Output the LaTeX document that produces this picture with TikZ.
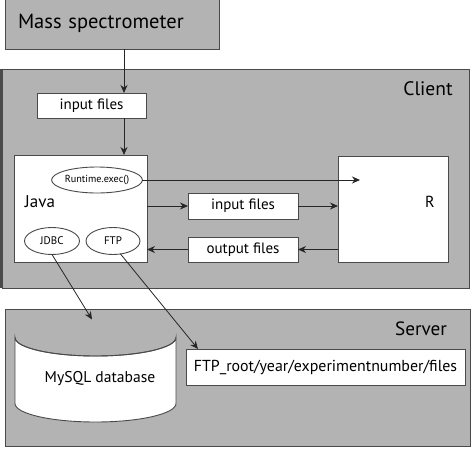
\documentclass[tikz,border=0pt]{standalone}
\usepackage{fontspec}
\setmainfont{PT Sans}
\usetikzlibrary{arrows.meta,calc,shapes.geometric}
\definecolor{boxgray}{HTML}{B3B3B3}
\definecolor{edge}{HTML}{4A4A4A}
\begin{document}
\begin{tikzpicture}[x=1pt,y=-1pt,
  graybox/.style={draw=edge,fill=boxgray,line width=1pt,inner sep=0pt,outer sep=0pt},
  whitebox/.style={draw=edge,fill=white,line width=0.9pt,inner sep=0pt,outer sep=0pt},
  oval/.style={draw=edge,fill=white,ellipse,line width=0.9pt,inner sep=0pt,outer sep=0pt},
  arr/.style={draw=black!85,line width=0.8pt,-{Stealth[length=8pt,width=7pt]}},
  plain/.style={inner sep=0pt}
]
\useasboundingbox (0,0) rectangle (474,448);
\fill[white] (0,0) rectangle (474,448);
% mass spectrometer
\node[graybox,minimum width=214pt,minimum height=51pt,text width=188pt,inner xsep=13pt,align=left,font=\fontsize{20.5}{23}\selectfont] (mass) at (112,23.5) {Mass spectrometer};
% client
\node[graybox,minimum width=467pt,minimum height=219pt] (client) at (235.5,178.5) {};
\draw[edge,line width=3pt] (1.5,68.5) -- (1.5,288);
\node[plain,font=\fontsize{19.5}{22}\selectfont] (clientT) at (428,89) {Client};
% server
\node[graybox,minimum width=465pt,minimum height=137pt] (server) at (237.5,377.5) {};
\node[plain,font=\fontsize{19.2}{22}\selectfont] (serverT) at (421,329) {Server};
% client contents
\node[whitebox,minimum width=109pt,minimum height=25pt,font=\fontsize{15}{17}\selectfont] (in1) at (91.5,105.5) {input files};
\node[whitebox,minimum width=133pt,minimum height=107pt] (java) at (80.5,208.5) {};
\node[plain,font=\fontsize{17}{20}\selectfont] (javaT) at (40,202) {Java};
\node[oval,minimum width=81pt,minimum height=26pt,font=\fontsize{10.2}{12}\selectfont] (rt) at (97,180) {Runtime.exec()};
\node[oval,minimum width=55pt,minimum height=27pt,font=\fontsize{11}{13}\selectfont] (jdbc) at (52,241) {JDBC};
\node[oval,minimum width=54pt,minimum height=27pt,font=\fontsize{11}{13}\selectfont] (ftp) at (113,241) {FTP};
\node[whitebox,minimum width=110pt,minimum height=106pt] (R) at (393,209) {};
\node[plain,font=\fontsize{16}{19}\selectfont] (RT) at (430,202) {R};
\node[whitebox,minimum width=110pt,minimum height=26pt,font=\fontsize{15}{17}\selectfont] (in2) at (243,206) {input files};
\node[whitebox,minimum width=110pt,minimum height=25pt,font=\fontsize{15}{17}\selectfont] (out) at (243,249.5) {output files};
% server contents
\draw[draw=edge,fill=white,line width=0.9pt] (15,337.5) -- (15,403.5) arc[start angle=180,end angle=360,x radius=80.5pt,y radius=18.5pt] -- (176,337.5) arc[start angle=0,end angle=-180,x radius=80.5pt,y radius=18.5pt] -- cycle;
\draw[draw=edge,line width=0.9pt] (15,337.5) arc[start angle=180,end angle=360,x radius=80.5pt,y radius=18.5pt];
\coordinate (dbtop) at (92,319.5);
\node[plain,font=\fontsize{15.6}{18}\selectfont] (dbT) at (100,379) {MySQL database};
\node[whitebox,minimum width=279pt,minimum height=36pt,font=\fontsize{15.9}{18}\selectfont] (ftpbox) at (325.5,367) {FTP\_root/year/experimentnumber/files};
% connectors
\coordinate (ax) at (124,0);
\coordinate (rtip) at (360,180);
\draw[arr] (mass.south -| ax) -- (in1.north -| ax);
\draw[arr] (in1.south -| ax) -- (java.north -| ax);
\draw[arr] (rt.east) -- (rtip);
\draw[arr] (java.east |- in2.west) -- (in2.west);
\draw[arr] (in2.east) -- (R.west |- in2.east);
\draw[arr] (R.west |- out.east) -- (out.east);
\draw[arr] (out.west) -- (java.east |- out.west);
\draw[arr] (jdbc.south) -- (dbtop);
\draw[arr] (ftp.300) -- ($(ftpbox.north west)+(12,0)$);
\end{tikzpicture}
\end{document}
